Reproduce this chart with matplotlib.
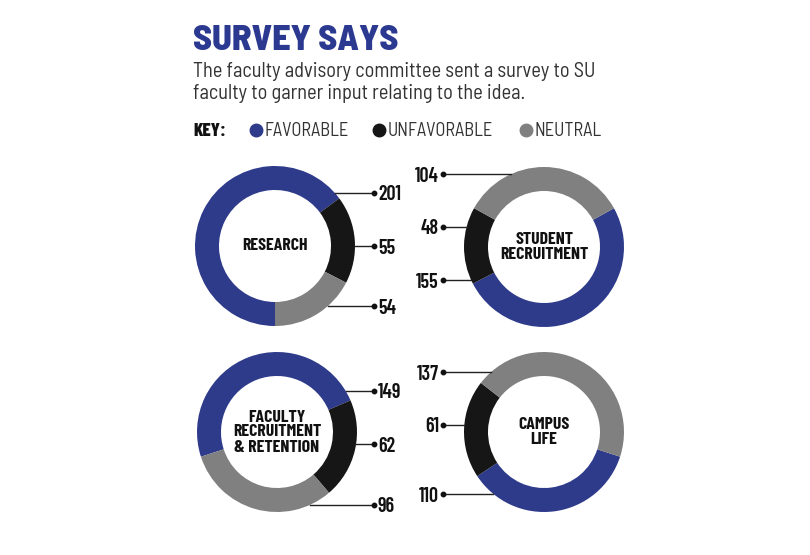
import numpy as np
import matplotlib.pyplot as plt

# ---- data ----
topics = ["RESEARCH", "STUDENT\nRECRUITMENT", "FACULTY\nRECRUITMENT\n& RETENTION", "CAMPUS\nLIFE"]
favorable = [201, 155, 149, 110]
unfavorable = [55, 48, 62, 61]
neutral = [54, 104, 96, 137]
key_labels = ["FAVORABLE", "UNFAVORABLE", "NEUTRAL"]

title = "SURVEY SAYS"
subtitle = ["The faculty advisory committee sent a survey to SU",
            "faculty to garner input relating to the idea."]

# ---- style / layout (pixels, origin top-left) ----
W, H = 810, 555
colors = ["#2e3a8a", "#161616", "#808080"]
blue_title = "#2b3990"
# condensed faces, DejaVu Sans condensed as fallback
txt = dict(family=["Barlow Condensed", "DejaVu Sans"], fontstretch="condensed")
semi = dict(family=["Barlow Semi Condensed", "DejaVu Sans"], fontstretch="condensed")

R, ring = 80, 24
centers = [(275, 246), (544, 247), (277, 432), (544, 432)]
starts = [270, 29, 198, -18]
sides = ["right", "left", "right", "left"]
# y offsets of the leader lines for favorable, unfavorable, neutral
label_dy = [(-53, 0, 60), (33, -20, -73), (-41, 12, 73), (62, -7, -60)]
dot_x = {"right": 374, "left": 443}


def Y(y):
    return H - y


fig = plt.figure(figsize=(W / 100, H / 100), dpi=100)
ax = fig.add_axes([0, 0, 1, 1])

for i, topic in enumerate(topics):
    cx, cy = centers[i]
    vals = [favorable[i], unfavorable[i], neutral[i]]
    ax.pie(vals, colors=colors, center=(cx, Y(cy)), radius=R, startangle=starts[i],
           counterclock=False, wedgeprops=dict(width=ring, edgecolor="none"))
    ax.text(cx, Y(cy), topic, ha="center", va="center", fontsize=12.8,
            fontweight="bold", color="#111111", linespacing=1.0, **txt)

    # leader lines with values
    side = sides[i]
    dx_dot = dot_x[side]
    for v, dy in zip(vals, label_dy[i]):
        edge = np.sqrt(R ** 2 - dy ** 2)
        x0 = cx + edge if side == "right" else cx - edge
        ax.plot([x0, dx_dot], [Y(cy + dy)] * 2, color="#222222", lw=1)
        ax.plot(dx_dot, Y(cy + dy), "o", color="#111111", ms=3.2)
        if side == "right":
            ax.text(dx_dot + 4, Y(cy + dy), str(v), ha="left", va="center_baseline",
                    fontsize=14.5, fontweight="semibold", color="#111111", **txt)
        else:
            ax.text(dx_dot - 4, Y(cy + dy), str(v), ha="right", va="center_baseline",
                    fontsize=14.5, fontweight="semibold", color="#111111", **txt)

# title and subtitle
ax.text(193, Y(50), title, ha="left", va="baseline", fontsize=26, fontweight="heavy",
        color=blue_title, **semi)
ax.text(193, Y(77), subtitle[0], ha="left", va="baseline", fontsize=14.7,
        color="#333333", **semi)
ax.text(193, Y(99), subtitle[1], ha="left", va="baseline", fontsize=14.7,
        color="#333333", **semi)

# key
ax.text(193, Y(136), "KEY:", ha="left", va="baseline", fontsize=13.5, fontweight="heavy",
        color="#111111", **txt)
key_dot_x = [256, 379, 526]
for lab, c, kx in zip(key_labels, colors, key_dot_x):
    ax.plot(kx, Y(130), "o", color=c, ms=9)
    ax.text(kx + 9, Y(136), lab, ha="left", va="baseline", fontsize=13.2,
            color="#333333", **semi)

ax.set_xlim(0, W)
ax.set_ylim(0, H)
ax.set_aspect("equal")
ax.axis("off")

fig.savefig("out.png", dpi=100, facecolor="white")
